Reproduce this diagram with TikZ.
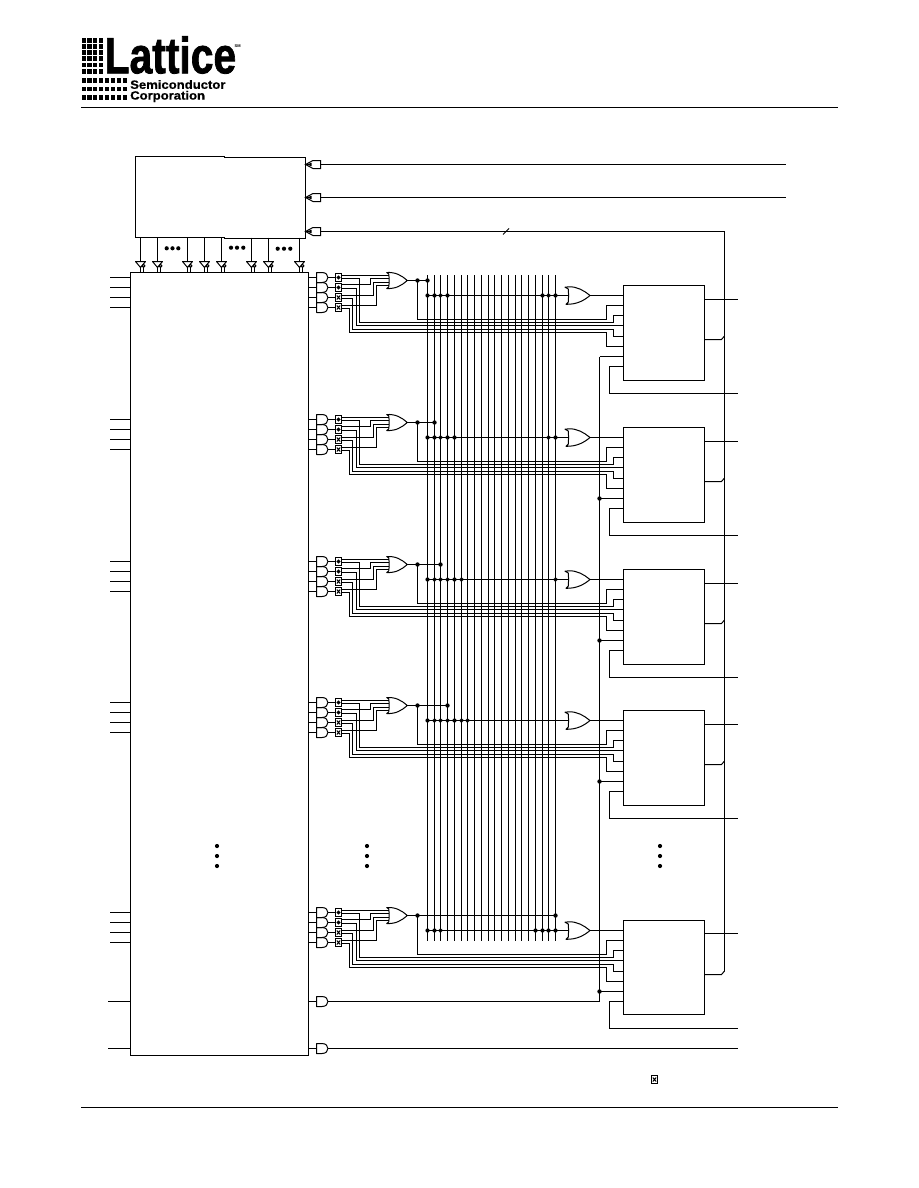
\documentclass[tikz,border=0pt]{standalone}
\usepackage{fontspec}
\setmainfont{Liberation Sans}
\newfontfamily\lgf[FakeBold=1.6]{Liberation Sans Bold}
\newfontfamily\lgs[FakeBold=.6]{Liberation Sans Bold}
\tikzset{
  wire/.style={line width=1pt,line cap=butt,line join=miter},
  gateln/.style={line width=1pt,line join=round},
  bigbox/.style={draw,line width=1pt,inner sep=0pt,outer sep=0pt,anchor=north west},
  xcell/.style={draw,line width=1.1pt,inner sep=0pt,outer sep=0pt,minimum width=6pt,minimum height=8pt},
  logosq/.style={fill=black},
  andgate/.pic={
    \coordinate (-i) at (0,0);
    \coordinate (-o) at (11.4,0);
    \draw[gateln] (5.5,-5) -- (0,-5) -- (0,5) -- (5.5,5) .. controls (9.5,5) and (11.4,2.5) .. (11.4,0) .. controls (11.4,-2.5) and (9.5,-5) .. (5.5,-5) -- cycle;
  },
  orgateA/.pic={
    \coordinate (-o) at (20.6,0);
    \draw[gateln] (0,-8) .. controls (9,-8.5) and (15,-5) .. (20.6,0) .. controls (15,5) and (9,8.5) .. (0,8) -- (2,6.5) .. controls (2.6,3) and (2.6,-3) .. (2,-6.5) -- cycle;
  },
  orgateB/.pic={
    \coordinate (-i) at (3,0);
    \coordinate (-o) at (25,0);
    \draw[gateln] (0,-8.3) -- (4,-8.7) .. controls (12,-9) and (19,-5) .. (25,0) .. controls (19,5) and (12,9) .. (1,8.8) -- (3.3,6.5) .. controls (3.6,3) and (3.6,-3) .. (3.3,-6.5) -- cycle;
  },
  buffdown/.pic={
    \coordinate (-t) at (0,0);
    \coordinate (-b) at (0,6);
    \coordinate (-c) at (3,6.2);
    \draw[gateln] (-5,0) -- (5,0) -- (0,6) -- cycle;
    \draw[gateln,fill=white] (3,4.4) circle (1.5);
  },
  buffleft/.pic={
    \coordinate (-r) at (15,0);
    \draw[line width=1pt,line join=miter] (0,0) -- (7.5,-4) -- (15,-4) -- (15,4) -- (7.5,4) -- cycle;
    \fill (0,0) -- (6,-1.6) -- (6,1.6) -- cycle;
  },
}
\newcommand{\glyphO}[1]{\draw[line width=.9pt] (#1) circle (1.5);\fill (#1) circle (.7);}
\newcommand{\glyphX}[1]{\draw[line width=1pt] ([xshift=-1.7pt,yshift=-2pt]#1) -- ([xshift=1.7pt,yshift=2pt]#1) ([xshift=-1.7pt,yshift=2pt]#1) -- ([xshift=1.7pt,yshift=-2pt]#1);}
\begin{document}
\begin{tikzpicture}[x=1pt,y=-1pt]
\useasboundingbox (0,0) rectangle (918,1188);
\fill[white] (0,0) rectangle (918,1188);

% logo
\foreach \yy in {38.5,44.5,50.5,56.5,63,69.5}
  \foreach \xx in {81.5,87.2,93,98.7}
    \fill[logosq] (\xx,\yy) rectangle ++(4.4,4.2);
\foreach \yy in {78.5,87.2,95.5}
  \foreach \xx in {81.5,87.2,93,98.7,105,111,117,123}
    \fill[logosq] (\xx,\yy) rectangle ++(4.4,4.2);
\node[anchor=base west,inner sep=0pt,xscale=.8,transform shape,font=\lgf\fontsize{51}{51}\selectfont] (logoA) at (104.5,73.3) {Lattice};
\node[anchor=base west,inner sep=0pt,xscale=1.09,transform shape,font=\lgs\fontsize{12}{12}\selectfont] (logoB) at (130,88.8) {Semiconductor};
\node[anchor=base west,inner sep=0pt,xscale=1.09,transform shape,font=\lgs\fontsize{12}{12}\selectfont] (logoC) at (130,99.6) {Corporation};
\node[anchor=base west,inner sep=0pt,font=\bfseries\fontsize{4}{4}\selectfont] (logoD) at (234.5,48) {SM};

% page rules
\coordinate (ruleAl) at (81,107.5); \coordinate (ruleAr) at (838,107.5);
\coordinate (ruleBl) at (81,1107.5); \coordinate (ruleBr) at (838,1107.5);
\draw[wire] (ruleAl) -- (ruleAr);
\draw[wire] (ruleBl) -- (ruleBr);

% upper block
\draw[wire] (135.5,156.5) -- (224.5,156.5) -- (224.5,157.5) -- (305.5,157.5) -- (305.5,238.5) -- (224.5,238.5) -- (224.5,237.5) -- (135.5,237.5) -- cycle;
\coordinate (tb) at (135.5,237.5);

% main block
\node[bigbox,minimum width=178pt,minimum height=783pt] (main) at (130.5,272.5) {};

% input buffers of the upper block
\pic (ba) at (305.5,164.5) {buffleft};
\pic (bb) at (305.5,197.5) {buffleft};
\pic (bc) at (305.5,231.5) {buffleft};
\coordinate (ia) at (786,164.5);
\coordinate (ib) at (786,197.5);
\draw[wire] (ba-r) -- (ia);
\draw[wire] (bb-r) -- (ib);

% buffers between blocks
\foreach \i/\xx in {1/140.5,2/157.5,3/187.5,4/204.5,5/221.5,6/251.5,7/268.5,8/299.5}{
  \pic (buf\i) at (\xx,261.5) {buffdown};
  \draw[wire] (buf\i-t |- tb) -- (buf\i-t);
  \draw[wire] (buf\i-b) -- (buf\i-b |- main.north);
  \draw[wire] (buf\i-c) -- (buf\i-c |- main.north);
}
% ellipsis dots
\foreach \xx/\yy in {166.7/248.3,172.5/248.3,178.3/248.3,231/247.7,237/247.7,243.3/247.7,277.7/248.7,284/248.7,290.3/248.7}
  \fill (\xx,\yy) circle (2.1);
\foreach \xx in {217,367,660}
  \foreach \yy in {846,856,866}
    \fill (\xx,\yy) circle (2.1);

% vertical bus
\foreach \n in {1,...,20}{
  \pgfmathsetmacro{\lx}{floor(427.5+6.74*(\n-1))+0.5}
  \coordinate (Lt\n) at (\lx,275);
  \coordinate (Lb\n) at (\lx,941);
  \draw[wire] (Lt\n) -- (Lb\n);
}

% right-hand feedback
\coordinate (fbtop) at (724.5,231.5);

% repeated blocks
\foreach \b/\dy/\hit/\dl/\xl/\hh/\oy in {
  1/0/1/{1,2,4,18,20}/{3,19}/95/299.5,
  2/142/2/{1,2,4,5,20}/{3,19}/95/299.5,
  3/284/3/{1,5}/{2,3,4,6,20}/95/299.5,
  4/425/4/{1,5}/{2,3,4,6,7}/95/299.5,
  5/635/20/{1,2,17,18,19,20}/{3}/94/298.5}{
\begin{scope}[yshift=-\dy pt]
  \foreach \i/\yy in {1/277.5,2/287.5,3/297.5,4/307.5}{
    \coordinate (in\b\i) at (110,\yy);
    \draw[wire] (in\b\i) -- (in\b\i -| main.west);
    \pic (and\b\i) at (316.5,\yy) {andgate};
    \draw[wire] (and\b\i-i -| main.east) -- (and\b\i-i);
    \node[xcell] (x\b\i) at (338.5,\yy) {};
    \draw[wire] (and\b\i-o) -- (x\b\i.west);
    \ifnum\i<3 \glyphO{x\b\i.center} \else \glyphX{x\b\i.center} \fi
  }
  \pic (ora\b) at (386.7,280.5) {orgateA};
  \pic (orb\b) at (565,295.5) {orgateB};
  \node[bigbox,minimum width=81pt,minimum height=\hh pt] (mc\b) at (623.5,285.5) {};
  % inputs of the first OR
  \coordinate (oia\b) at (388.8,275.5);
  \coordinate (oib\b) at (389,278.5);
  \coordinate (oic\b) at (389,282.5);
  \coordinate (oid\b) at (388.8,285.5);
  \draw[wire] ([yshift=2pt]x\b1.east) -- (oia\b);
  \draw[wire] ([yshift=3pt]x\b2.east) -- (370.5,284.5) -- (370.5,278.5) -- (oib\b);
  \draw[wire] ([yshift=2pt]x\b3.east) -- (373.5,295.5) -- (373.5,282.5) -- (oic\b);
  \draw[wire] ([yshift=2pt]x\b4.east) -- (376.5,305.5) -- (376.5,285.5) -- (oid\b);
  % bundle to the macrocell
  \coordinate (ma\b) at (623.5,305.5);
  \coordinate (mb\b) at (623.5,315.5);
  \coordinate (mc\b in) at (623.5,325.5);
  \coordinate (md\b) at (623.5,336.5);
  \coordinate (me\b) at (623.5,346.5);
  \draw[wire] (ora\b-o) -- (417.5,280.5) -- (417.5,319.5) -- (606.5,319.5) -- (606.5,305.5) -- (ma\b);
  \draw[wire] ([yshift=-1pt]x\b1.east) -- (359.5,278.5) -- (359.5,322.5) -- (613.5,322.5) -- (613.5,315.5) -- (mb\b);
  \draw[wire] ([yshift=-1pt]x\b2.east) -- (356.5,288.5) -- (356.5,325.5) -- (mc\b in);
  \draw[wire] ([yshift=-1pt]x\b3.east) -- (352.5,298.5) -- (352.5,329.5) -- (613.5,329.5) -- (613.5,336.5) -- (md\b);
  \draw[wire] ([yshift=-1pt]x\b4.east) -- (349.5,308.5) -- (349.5,332.5) -- (606.5,332.5) -- (606.5,346.5) -- (me\b);
  % OR output onto the bus
  \coordinate (oh\b) at (417.5,280.5);
  \draw[wire] (oh\b) -- (Lt\hit |- oh\b);
  \fill (oh\b) circle (2.2);
  \fill (Lt\hit |- oh\b) circle (2.2);
  % product row
  \coordinate (row\b) at (427.5,295.5);
  \draw[wire] (row\b) -- (orb\b-i);
  \foreach \n in \dl { \fill (Lt\n |- row\b) circle (2.1); }
  \foreach \n in \xl { \draw[line width=.7pt] ([xshift=-1.6pt,yshift=-1.6pt]Lt\n |- row\b) -- ([xshift=1.6pt,yshift=1.6pt]Lt\n |- row\b) ([xshift=-1.6pt,yshift=1.6pt]Lt\n |- row\b) -- ([xshift=1.6pt,yshift=-1.6pt]Lt\n |- row\b); }
  \draw[wire] (orb\b-o) -- (orb\b-o -| mc\b.west);
  % clock, feedback, outputs
  \coordinate (clk\b) at (599.5,356.5);
  \draw[wire] (clk\b) -- (clk\b -| mc\b.west);
  \coordinate (ff\b) at (623.5,366.5);
  \coordinate (fo\b) at (737.5,393.5);
  \draw[wire] (ff\b) -- (609.5,366.5) -- (609.5,393.5) -- (fo\b);
  \coordinate (ot\b) at (737.5,\oy);
  \draw[wire] (ot\b -| mc\b.east) -- (ot\b);
  \coordinate (fb\b) at (724.5,336);
  \draw[wire] (fb\b -| mc\b.east) ++(0,3.5) -- (721.5,339.5) -- (fb\b);
\end{scope}
}
\foreach \b in {2,3,4,5} \fill (clk\b) circle (2.2);

% feedback bus
\draw[wire] (bc-r) -- (fbtop) -- (fb5);
\coordinate (sa) at (503,234.5);
\coordinate (sb) at (509,228.5);
\draw[line width=.8pt] (sa) -- (sb);

% two bottom lines
\coordinate (cki) at (108,1001.5);
\coordinate (oei) at (108,1048.5);
\coordinate (oeo) at (737.5,1048.5);
\draw[wire] (cki) -- (cki -| main.west);
\draw[wire] (oei) -- (oei -| main.west);
\pic (ack) at (316.5,1001.5) {andgate};
\pic (aoe) at (316.5,1048.5) {andgate};
\draw[wire] (ack-i -| main.east) -- (ack-i);
\draw[wire] (aoe-i -| main.east) -- (aoe-i);
\draw[wire] (aoe-o) -- (oeo);
\draw[wire] (ack-o) -- (ack-o -| clk1) -- (clk1);

% legend cell
\node[xcell] (legend) at (654.5,1079.5) {};
\glyphX{legend.center}
\end{tikzpicture}
\end{document}
